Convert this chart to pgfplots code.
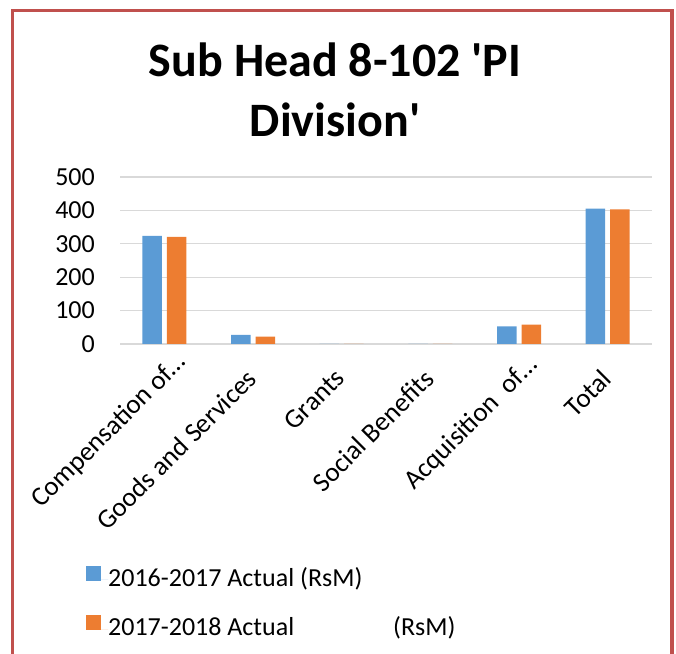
\documentclass[border=0pt]{standalone}
\usepackage{fontspec}
\setmainfont{Carlito}
\usepackage{pgfplots}
\pgfplotsset{compat=1.18}
\definecolor{sblue}{RGB}{91,155,213}
\definecolor{sorange}{RGB}{237,125,49}
\definecolor{framered}{RGB}{192,80,77}
\definecolor{gridgray}{RGB}{217,217,217}
\newcommand{\lblfont}{\fontsize{26bp}{31bp}\selectfont}
\newcommand{\xlblfont}{\fontsize{27bp}{32bp}\selectfont}
\begin{document}
\begin{tikzpicture}[x=1bp,y=1bp]
\begin{axis}[
  at={(120bp,310bp)}, anchor=south west,
  scale only axis, width=532bp, height=167bp,
  ymin=0, ymax=500, ytick={0,100,200,300,400,500},
  xmin=-0.5, xmax=5.5, xtick={0,1,2,3,4,5},
  xticklabels={{Compensation of…\kern-25bp},{Goods and Services},{Grants},{Social Benefits},{Acquisition\ \ of…\kern-20bp},{Total}},
  ybar=5bp, bar width=19.5bp,
  ymajorgrids, grid style={gridgray, line width=1.3bp},
  axis line style={draw=none}, tick style={draw=none},
  /pgf/number format/assume math mode=true,
  yticklabel style={font=\lblfont, anchor=east, inner sep=0pt, xshift=-25bp},
  xticklabel style={font=\xlblfont, xshift=-8bp, yshift=-19bp, rotate=45, anchor=north east, inner sep=0pt},
  legend style={at={(axis description cs:-0.064,-1.326)}, anchor=north west, draw=none, fill=none,
    font=\lblfont, row sep=23bp, inner sep=0pt,
    nodes={inner sep=0pt, text height=19bp, text depth=6bp}},
  legend cell align=left,
  legend image code/.code={\path (0bp,0bp) -- (22bp,0bp); \draw[#1,draw=none] (0bp,-1bp) rectangle (15bp,14bp);},
]
\addplot[fill=sblue, draw=none] coordinates {(0,324) (1,27) (2,0) (3,0) (4,53) (5,405)};
\addplot[fill=sorange, draw=none] coordinates {(0,321) (1,22) (2,0) (3,0) (4,58) (5,403)};
\legend{2016-2017 Actual (RsM), 2017-2018 Actual\hspace{99bp}(RsM)}
\end{axis}
\node[anchor=base, font=\bfseries\fontsize{48bp}{58bp}\selectfont] at (335,577) {Sub Head 8-102 \textquotesingle PI};
\node[anchor=base, font=\bfseries\fontsize{48bp}{58bp}\selectfont] at (335,517) {Division\textquotesingle};
\draw[framered, line width=3.5bp] (12.5,-10) -- (12.5,643.5) -- (672,643.5) -- (672,-10);
\pgfresetboundingbox
\useasboundingbox (0,0) rectangle (676,654);
\end{tikzpicture}
\end{document}
